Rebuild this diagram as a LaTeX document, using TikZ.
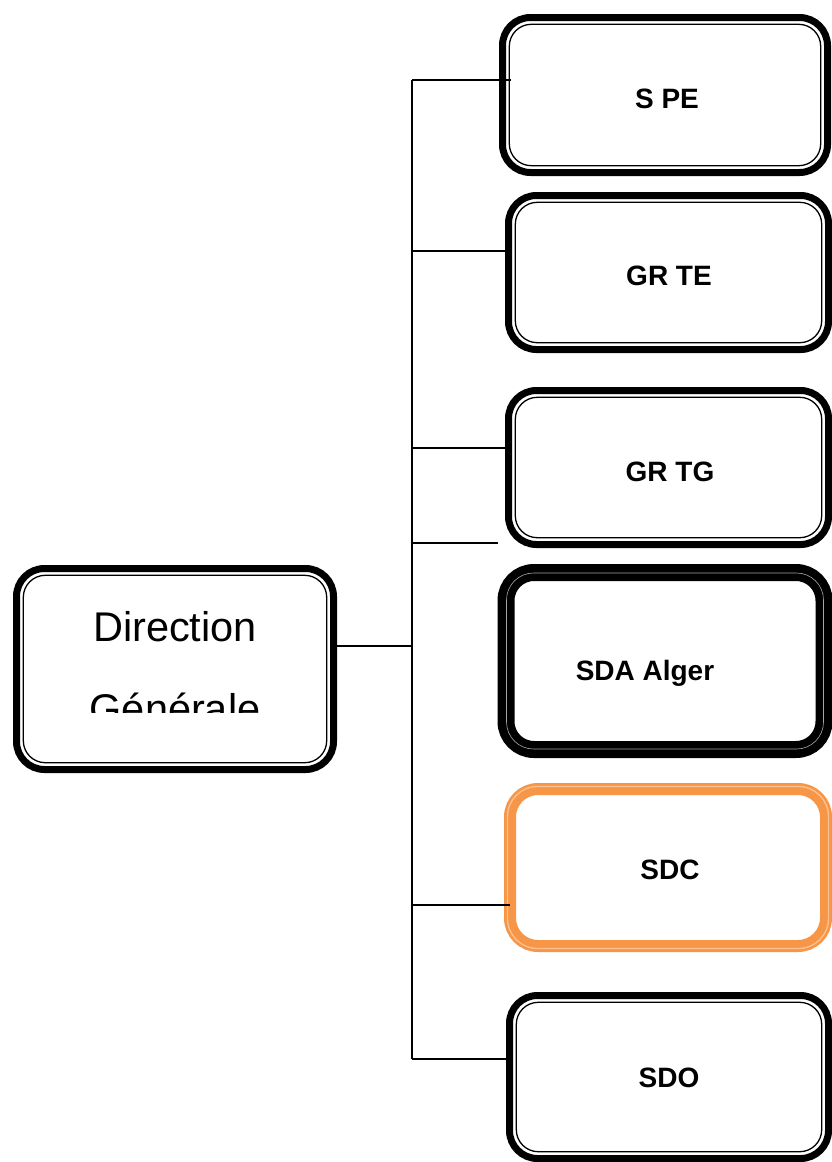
\documentclass[tikz,border=0pt]{standalone}
\usepackage{fontspec}
\setmainfont{Liberation Sans}
\definecolor{sdcorange}{HTML}{F79646}
\definecolor{sdclight}{HTML}{FAC090}
\begin{document}
\begin{tikzpicture}[x=1pt,y=-1pt,
  boxbase/.style={rectangle, outer sep=0pt, inner sep=0pt, fill=white},
  obox/.style={boxbase, draw=black, line width=7pt, rounded corners=28pt},
  ibox/.style={draw=black, line width=1.3pt, rounded corners=22pt},
  heavybox/.style={boxbase, draw=black, line width=17pt, rounded corners=28pt},
  orangebox/.style={boxbase, draw=sdcorange, line width=12pt, rounded corners=28pt},
  conn/.style={draw=black, line width=1.6pt},
  lbl/.style={anchor=base, inner sep=0pt, font=\bfseries\fontsize{28}{30}\selectfont},
  big/.style={anchor=base, inner sep=0pt, font=\fontsize{41.5}{44}\selectfont}]
\useasboundingbox (0,0) rectangle (832,1162);

% connector junction points
\coordinate (t1) at (412,80);
\coordinate (t2) at (412,251);
\coordinate (t3) at (412,448);
\coordinate (t4) at (412,543);
\coordinate (tdg) at (412,646);
\coordinate (t5) at (412,905);
\coordinate (t6) at (412,1059);
\coordinate (stray) at (498,543);

% boxes
\node[obox, minimum width=325, minimum height=155] (spe) at (665,95) {};
\node[obox, minimum width=320, minimum height=154] (grte) at (668.5,272.5) {};
\node[obox, minimum width=320, minimum height=154] (grtg) at (668.5,467.5) {};
\node[heavybox, minimum width=318, minimum height=177] (sda) at (665,661) {};
\node[orangebox, minimum width=316, minimum height=157] (sdc) at (668,867.5) {};
\node[obox, minimum width=319, minimum height=163] (sdo) at (669,1077) {};
\node[obox, minimum width=317, minimum height=201] (dg) at (175,669) {};

% inner thin lines
\foreach \n in {spe,grte,grtg,sdo,dg}
  \draw[ibox] ([shift={(6.8,6.8)}]\n.north west) rectangle ([shift={(-6.8,-6.8)}]\n.south east);
\draw[draw=black!35, line width=0.6pt, rounded corners=27pt]
  ([shift={(0.5,0.5)}]sda.north west) rectangle ([shift={(-0.5,-0.5)}]sda.south east);
\draw[draw=sdclight, line width=1.4pt, rounded corners=30pt]
  ([shift={(-2.5,-2.5)}]sdc.north west) rectangle ([shift={(2.5,2.5)}]sdc.south east);

% connector lines
\draw[conn] (t1) -- (t6);
\draw[conn] (t1) -- ([xshift=8]spe.west |- t1);
\draw[conn] (t2) -- (grte.west |- t2);
\draw[conn] (t3) -- (grtg.west |- t3);
\draw[conn] (t4) -- (stray);
\draw[conn] (dg.east |- tdg) -- (tdg);
\draw[conn] (t5) -- (sdc.west |- t5);
\draw[conn] (t6) -- (sdo.west |- t6);

% labels
\node[lbl] (spe-t) at (667,108) {S PE};
\node[lbl] (grte-t) at (669,285) {GR TE};
\node[lbl] (grtg-t) at (670,481) {GR TG};
\node[lbl] (sda-t) at (645,680) {SDA Alger};
\node[lbl] (sdc-t) at (670,879) {SDC};
\node[lbl] (sdo-t) at (669,1087) {SDO};
\node[big] (dg-t1) at (175,641) {Direction};
\begin{scope}
  \clip (0,0) rectangle (832,712);
  \node[big] (dg-t2) at (175,723) {Générale};
\end{scope}
\end{tikzpicture}
\end{document}
